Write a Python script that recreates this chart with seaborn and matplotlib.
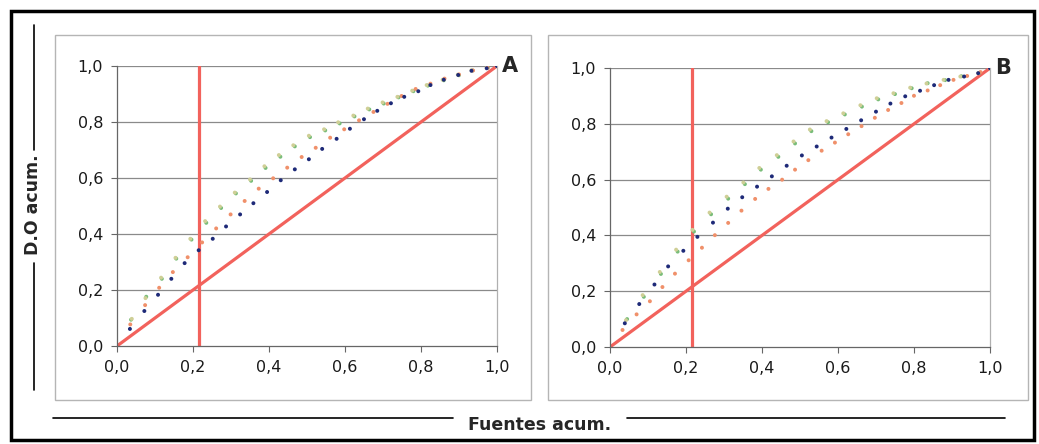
import matplotlib
matplotlib.use("Agg")
import matplotlib.pyplot as plt
import seaborn as sns
import pandas as pd
from matplotlib.patches import Rectangle
from matplotlib.lines import Line2D

# ---------------- data ----------------
# Panel A
a_navy_x = [0.034, 0.072, 0.108, 0.143, 0.178, 0.215, 0.252, 0.287, 0.324, 0.359, 0.395, 0.431, 0.468, 0.505,
            0.540, 0.578, 0.613, 0.650, 0.685, 0.721, 0.756, 0.793, 0.825, 0.860, 0.898, 0.933, 0.973, 1.0]
a_navy_y = [0.061, 0.125, 0.183, 0.240, 0.296, 0.342, 0.383, 0.427, 0.470, 0.510, 0.550, 0.592, 0.631, 0.667,
            0.704, 0.740, 0.776, 0.810, 0.840, 0.867, 0.890, 0.910, 0.932, 0.951, 0.968, 0.983, 0.992, 1.0]
a_orange_x = [0.035, 0.074, 0.111, 0.147, 0.186, 0.224, 0.261, 0.299, 0.336, 0.373, 0.411, 0.448, 0.486, 0.523,
              0.561, 0.598, 0.637, 0.675, 0.712, 0.749, 0.786, 0.825, 0.862, 0.900, 0.937, 0.975, 1.0]
a_orange_y = [0.077, 0.146, 0.208, 0.264, 0.317, 0.370, 0.420, 0.470, 0.518, 0.562, 0.599, 0.637, 0.675, 0.708,
              0.744, 0.774, 0.806, 0.836, 0.865, 0.893, 0.918, 0.937, 0.955, 0.970, 0.984, 0.994, 1.0]
a_light_x = [0.039, 0.075, 0.116, 0.154, 0.193, 0.232, 0.271, 0.310, 0.350, 0.388, 0.426, 0.464, 0.505,
             0.545, 0.582, 0.622, 0.660, 0.699, 0.738, 0.777, 0.815, 0.857, 0.897, 0.933, 0.973, 1.0]
a_light_y = [0.097, 0.171, 0.244, 0.315, 0.383, 0.446, 0.498, 0.548, 0.595, 0.642, 0.682, 0.717, 0.751,
             0.774, 0.799, 0.823, 0.848, 0.870, 0.890, 0.912, 0.932, 0.951, 0.969, 0.985, 0.995, 1.0]
a_green_x = [0.037, 0.077, 0.118, 0.156, 0.196, 0.235, 0.274, 0.313, 0.353, 0.391, 0.430, 0.468, 0.508,
             0.548, 0.586, 0.625, 0.664, 0.702, 0.741, 0.780, 0.818, 0.860, 0.900, 0.936, 0.976, 1.0]
a_green_y = [0.094, 0.176, 0.240, 0.312, 0.380, 0.440, 0.493, 0.545, 0.590, 0.636, 0.676, 0.713, 0.746,
             0.770, 0.795, 0.820, 0.845, 0.866, 0.888, 0.910, 0.930, 0.949, 0.967, 0.984, 0.994, 1.0]

# Panel B
b_navy_x = [0.039, 0.077, 0.117, 0.153, 0.193, 0.230, 0.271, 0.310, 0.348, 0.387, 0.426, 0.465, 0.505,
            0.544, 0.583, 0.622, 0.661, 0.700, 0.738, 0.777, 0.816, 0.853, 0.891, 0.932, 0.969, 1.0]
b_navy_y = [0.085, 0.154, 0.224, 0.289, 0.345, 0.395, 0.446, 0.496, 0.537, 0.575, 0.612, 0.650, 0.687,
            0.719, 0.751, 0.782, 0.813, 0.844, 0.873, 0.899, 0.919, 0.939, 0.958, 0.970, 0.982, 1.0]
b_orange_x = [0.033, 0.070, 0.105, 0.138, 0.171, 0.207, 0.242, 0.276, 0.311, 0.346, 0.382, 0.417, 0.453, 0.487,
              0.522, 0.557, 0.592, 0.627, 0.662, 0.697, 0.732, 0.767, 0.800, 0.836, 0.869, 0.904, 0.940, 0.975, 1.0]
b_orange_y = [0.061, 0.117, 0.164, 0.215, 0.263, 0.311, 0.356, 0.401, 0.445, 0.489, 0.531, 0.567, 0.600, 0.636,
              0.670, 0.704, 0.733, 0.763, 0.792, 0.822, 0.850, 0.875, 0.901, 0.920, 0.939, 0.958, 0.972, 0.986, 1.0]
b_light_x = [0.042, 0.086, 0.131, 0.174, 0.217, 0.262, 0.307, 0.351, 0.393, 0.439, 0.483, 0.526,
             0.570, 0.614, 0.659, 0.702, 0.746, 0.790, 0.833, 0.878, 0.922, 0.969, 1.0]
b_light_y = [0.096, 0.186, 0.269, 0.349, 0.420, 0.482, 0.539, 0.590, 0.642, 0.688, 0.737, 0.780,
             0.810, 0.838, 0.867, 0.892, 0.910, 0.930, 0.945, 0.958, 0.970, 0.982, 1.0]
b_green_x = [0.045, 0.089, 0.134, 0.178, 0.221, 0.266, 0.311, 0.355, 0.397, 0.443, 0.487, 0.530,
             0.574, 0.618, 0.663, 0.706, 0.750, 0.794, 0.836, 0.882, 0.925, 0.972, 1.0]
b_green_y = [0.100, 0.180, 0.262, 0.342, 0.414, 0.476, 0.532, 0.584, 0.636, 0.682, 0.730, 0.774,
             0.806, 0.834, 0.862, 0.888, 0.907, 0.928, 0.946, 0.957, 0.971, 0.983, 1.0]

equality = [0.0, 1.0]
cut_x = 0.217

# drawing order: green first (mostly hidden), then light, orange, navy
series_names = ["green", "light", "orange", "navy"]
palette = {"navy": "#1e2a78", "orange": "#f0906a", "light": "#cfcf96", "green": "#79bd79"}

ticks = [0.0, 0.2, 0.4, 0.6, 0.8, 1.0]
tick_labels = ["0,0", "0,2", "0,4", "0,6", "0,8", "1,0"]
panel_letters = ["A", "B"]


def long_frame(groups):
    rows = []
    for name, (xs, ys) in zip(series_names, groups):
        for x, y in zip(xs, ys):
            rows.append({"x": x, "y": y, "serie": name})
    return pd.DataFrame(rows)


df_a = long_frame([(a_green_x, a_green_y), (a_light_x, a_light_y), (a_orange_x, a_orange_y), (a_navy_x, a_navy_y)])
df_b = long_frame([(b_green_x, b_green_y), (b_light_x, b_light_y), (b_orange_x, b_orange_y), (b_navy_x, b_navy_y)])

# ---------------- figure ----------------
sns.set_style("white")
plt.rcParams["font.family"] = ["DejaVu Sans"]

fig = plt.figure(figsize=(10.39, 4.44), dpi=100)

# outer border and panel frames
fig.patches.append(Rectangle((0.0106, 0.009), 0.9846, 0.966, transform=fig.transFigure,
                             fill=False, edgecolor="black", lw=2.5, zorder=0))
for x0, w in [(0.0529, 0.4581), (0.5274, 0.462)]:
    fig.patches.append(Rectangle((x0, 0.0991), w, 0.822, transform=fig.transFigure,
                                 fill=False, edgecolor="#b5b5b5", lw=1.0, zorder=0))

axes_pos = [[0.1126, 0.2207, 0.3657, 0.6306], [0.5871, 0.2185, 0.3657, 0.628]]

for pos, df, letter in zip(axes_pos, [df_a, df_b], panel_letters):
    ax = fig.add_axes(pos)
    for yv in ticks[1:]:
        ax.axhline(yv, color="#8a8a8a", lw=0.9, zorder=0)
    sns.lineplot(x=equality, y=equality, ax=ax, color="#f2625c", lw=2.3, zorder=2)
    ax.axvline(cut_x, color="#f2625c", lw=2.3, zorder=2)
    sns.scatterplot(data=df, x="x", y="y", hue="serie", hue_order=["light", "green", "orange", "navy"],
                    palette=palette, s=8, linewidth=0, ax=ax, legend=False, zorder=3)
    ax.set_xlim(0, 1.0)
    ax.set_ylim(0, 1.0)
    ax.set_xticks(ticks)
    ax.set_yticks(ticks)
    ax.set_xticklabels(tick_labels)
    ax.set_yticklabels(tick_labels)
    ax.tick_params(axis="both", direction="out", length=4, width=0.8, color="#666666",
                   labelsize=11.5, labelcolor="#1a1a1a", pad=6, left=True, bottom=True)
    ax.set_xlabel("")
    ax.set_ylabel("")
    for side in ["left", "bottom"]:
        ax.spines[side].set_color("#666666")
        ax.spines[side].set_linewidth(0.9)
    ax.spines["right"].set_color("#b0b0b0")
    ax.spines["right"].set_linewidth(0.9)
    ax.spines["top"].set_visible(False)
    ax.set_facecolor("white")
    ax.text(1.035, 1.0, letter, transform=ax.transAxes, fontsize=15, fontweight="bold",
            ha="center", va="center")

# axis titles with rules
fig.text(0.0318, 0.538, "D.O acum.", rotation=90, ha="center", va="center",
         fontsize=12.5, fontweight="bold")
fig.lines.append(Line2D([0.0328, 0.0328], [0.662, 0.944], transform=fig.transFigure, color="black", lw=1.2))
fig.lines.append(Line2D([0.0328, 0.0328], [0.122, 0.408], transform=fig.transFigure, color="black", lw=1.2))

fig.text(0.519, 0.043, "Fuentes acum.", ha="center", va="center", fontsize=12.5, fontweight="bold")
fig.lines.append(Line2D([0.051, 0.436], [0.058, 0.058], transform=fig.transFigure, color="black", lw=1.2))
fig.lines.append(Line2D([0.603, 0.967], [0.058, 0.058], transform=fig.transFigure, color="black", lw=1.2))

fig.savefig("out.png", dpi=100, facecolor="white")
